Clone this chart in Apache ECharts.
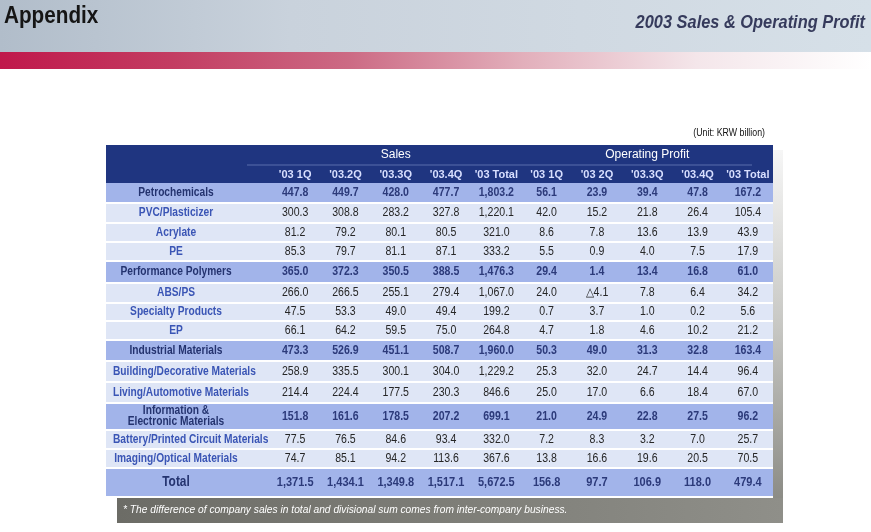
<!DOCTYPE html>
<html>
<head>
<meta charset="utf-8">
<script src="https://cdn.jsdelivr.net/npm/echarts@6.0.0/dist/echarts.min.js"></script>
<style>
  html, body { margin: 0; padding: 0; background: #fff; }
  #main { width: 871px; height: 532px; }
</style>
</head>
<body>
<div id="main"></div>
<script>
// row names and which of them are division (group) rows
const rowNames = ['Petrochemicals', 'PVC/Plasticizer', 'Acrylate', 'PE',
  'Performance Polymers', 'ABS/PS', 'Specialty Products', 'EP',
  'Industrial Materials', 'Building/Decorative Materials', 'Living/Automotive Materials',
  'Information &\nElectronic Materials', 'Battery/Printed Circuit Materials',
  'Imaging/Optical Materials', 'Total']
const groupRows = [1, 0, 0, 0, 1, 0, 0, 0, 1, 0, 0, 1, 0, 0, 1]

const colHeaders = ["'03 1Q", "'03.2Q", "'03.3Q", "'03.4Q", "'03 Total",
  "'03 1Q", "'03 2Q", "'03.3Q", "'03.4Q", "'03 Total"]
const blockHeaders = ['Sales', 'Operating Profit']

// Sales (KRW billion)
const sales1Q = [447.8, 300.3, 81.2, 85.3, 365.0, 266.0, 47.5, 66.1, 473.3, 258.9, 214.4, 151.8, 77.5, 74.7, 1371.5]
const sales2Q = [449.7, 308.8, 79.2, 79.7, 372.3, 266.5, 53.3, 64.2, 526.9, 335.5, 224.4, 161.6, 76.5, 85.1, 1434.1]
const sales3Q = [428.0, 283.2, 80.1, 81.1, 350.5, 255.1, 49.0, 59.5, 451.1, 300.1, 177.5, 178.5, 84.6, 94.2, 1349.8]
const sales4Q = [477.7, 327.8, 80.5, 87.1, 388.5, 279.4, 49.4, 75.0, 508.7, 304.0, 230.3, 207.2, 93.4, 113.6, 1517.1]
const salesTotal = [1803.2, 1220.1, 321.0, 333.2, 1476.3, 1067.0, 199.2, 264.8, 1960.0, 1229.2, 846.6, 699.1, 332.0, 367.6, 5672.5]

// Operating profit (negative shown with a triangle)
const op1Q = [56.1, 42.0, 8.6, 5.5, 29.4, 24.0, 0.7, 4.7, 50.3, 25.3, 25.0, 21.0, 7.2, 13.8, 156.8]
const op2Q = [23.9, 15.2, 7.8, 0.9, 1.4, -4.1, 3.7, 1.8, 49.0, 32.0, 17.0, 24.9, 8.3, 16.6, 97.7]
const op3Q = [39.4, 21.8, 13.6, 4.0, 13.4, 7.8, 1.0, 4.6, 31.3, 24.7, 6.6, 22.8, 3.2, 19.6, 106.9]
const op4Q = [47.8, 26.4, 13.9, 7.5, 16.8, 6.4, 0.2, 10.2, 32.8, 14.4, 18.4, 27.5, 7.0, 20.5, 118.0]
const opTotal = [167.2, 105.4, 43.9, 17.9, 61.0, 34.2, 5.6, 21.2, 163.4, 96.4, 67.0, 96.2, 25.7, 70.5, 479.4]

const columns = [sales1Q, sales2Q, sales3Q, sales4Q, salesTotal, op1Q, op2Q, op3Q, op4Q, opTotal]

// layout (pixels) - how tall each line is drawn, not data
const rowHeights = [21, 20, 19, 19, 22, 20, 18, 19, 21, 21, 21, 27, 19, 19, 29]
const labelColWidth = 164
const labelCenter = 176
const FONT = '"Liberation Sans", Arial, sans-serif'
const NARROW = 0.85 // squeeze Arial into something like Arial Narrow

const rowTops = []
rowHeights.reduce((acc, h, i) => { rowTops[i] = acc; return acc + h }, 0)
const tableHeight = rowHeights.reduce((a, b) => a + b, 0)
const lastRow = rowNames.length - 1

const fmt = v => (v < 0 ? '\u25B3' : '') +
  Math.abs(v).toLocaleString('en-US', { minimumFractionDigits: 1, maximumFractionDigits: 1 })

const measureCtx = document.createElement('canvas').getContext('2d')
const textWidth = (text, font) => {
  measureCtx.font = font
  return Math.max(...text.split('\n').map(s => measureCtx.measureText(s).width))
}

const chart = echarts.init(document.getElementById('main'))

const renderRow = (params, api) => {
  const i = api.value(2)
  const cs = params.coordSys
  const top = api.coord([0, rowTops[i]])[1]
  const bottom = api.coord([0, rowTops[i] + rowHeights[i]])[1]
  const mid = (top + bottom) / 2
  const left = cs.x - labelColWidth
  const isGroup = groupRows[i] === 1
  const labelFont = (i === lastRow ? 'bold 14px ' : 'bold 12px ') + FONT
  const w = textWidth(rowNames[i], labelFont) * NARROW
  const lx = Math.max(labelCenter, left + 7 + w / 2)
  const children = [{
    type: 'rect',
    shape: { x: left, y: top, width: cs.x + cs.width - left, height: bottom - top - 2 },
    style: { fill: isGroup ? '#a2b4ea' : '#dfe6f6' }
  }, {
    type: 'text',
    x: lx, y: mid - 1, scaleX: NARROW,
    style: {
      text: rowNames[i], x: 0, y: 0,
      align: 'center', verticalAlign: 'middle',
      font: labelFont, lineHeight: 11,
      fill: isGroup ? '#24336f' : '#3a55b5'
    }
  }]
  columns.forEach((col, c) => {
    const p = api.coord([c, rowTops[i] + rowHeights[i] / 2])
    children.push({
      type: 'text',
      x: p[0], y: p[1] - 1, scaleX: 0.88,
      style: {
        text: fmt(col[i]), x: 0, y: 0,
        align: 'center', verticalAlign: 'middle',
        font: (isGroup ? 'bold ' : '') + (i === lastRow ? '12.5px ' : '12px ') + FONT,
        fill: isGroup ? '#2c3a7a' : '#262626'
      }
    })
  })
  return { type: 'group', children }
}

const grayFade = (x2, y2, stops) => ({
  type: 'linear', x: 0, y: 0, x2, y2,
  colorStops: stops.map((c, k) => ({ offset: k / (stops.length - 1), color: c }))
})

chart.setOption({
  animation: false,
  grid: { left: 270, right: 98, top: 183, height: tableHeight },
  xAxis: [{
    type: 'category',
    data: colHeaders,
    position: 'top',
    z: 5,
    axisLine: { show: false },
    axisTick: { show: false },
    axisLabel: { interval: 0, color: '#d8dfff', fontWeight: 'bold', fontSize: 11, fontFamily: FONT, margin: 3 }
  }, {
    type: 'category',
    data: blockHeaders,
    position: 'top',
    offset: 18,
    z: 5,
    axisLine: { show: false },
    axisTick: { show: false },
    axisLabel: { interval: 0, color: '#ffffff', fontSize: 12, fontFamily: FONT, margin: 4 }
  }],
  yAxis: { type: 'value', inverse: true, min: 0, max: tableHeight, show: false },
  graphic: [
    {
      type: 'rect', z: -10,
      shape: { x: 0, y: 0, width: 871, height: 52 },
      style: { fill: grayFade(1, 0, ['#b1bdca', '#c9d2dc', '#d0d9e2', '#d6e0e8']) }
    },
    {
      type: 'rect', z: -10,
      shape: { x: 0, y: 52, width: 871, height: 17 },
      style: { fill: grayFade(1, 0, ['#c0184b', '#c33d62', '#cc6a84', '#e2afbb', '#f4e6ea', '#ffffff']) }
    },
    {
      type: 'text', x: 4, y: 17, scaleX: 0.9,
      style: { text: 'Appendix', x: 0, y: 0, verticalAlign: 'middle', font: 'bold 23px ' + FONT, fill: '#151515' }
    },
    {
      type: 'text', x: 865, y: 23, scaleX: 0.91,
      style: {
        text: '2003 Sales & Operating Profit', x: 0, y: 0, align: 'right', verticalAlign: 'middle',
        font: 'italic bold 18px ' + FONT, fill: '#363b5c'
      }
    },
    {
      type: 'text', x: 765, y: 133, scaleX: 0.88,
      style: {
        text: '(Unit: KRW billion)', x: 0, y: 0, align: 'right', verticalAlign: 'middle',
        font: '10px ' + FONT, fill: '#111'
      }
    },
    {
      type: 'rect', z: -10,
      shape: { x: 773, y: 150, width: 10, height: 348 },
      style: { fill: grayFade(0, 1, ['#f6f6f6', '#c8c8c4', '#8c8c86']) }
    },
    {
      type: 'rect', z: -9,
      shape: { x: 117, y: 498, width: 666, height: 25 },
      style: { fill: grayFade(1, 0, ['#6c6c66', '#8f8f89']) }
    },
    {
      type: 'text', x: 123, y: 510, scaleX: 0.93,
      style: {
        text: '* The difference of company sales in total and divisional sum comes from inter-company business.',
        x: 0, y: 0, verticalAlign: 'middle', font: 'italic 11px ' + FONT, fill: '#ffffff'
      }
    },
    {
      type: 'rect', z: -8,
      shape: { x: 106, y: 145, width: 667, height: 38 },
      style: { fill: '#1f3580' }
    },
    {
      type: 'line', z: -7,
      shape: { x1: 247, y1: 165, x2: 752, y2: 165 },
      style: { stroke: '#5b6fac', lineWidth: 1 }
    }
  ],
  series: [{
    type: 'custom',
    clip: false,
    renderItem: renderRow,
    encode: { x: 0, y: 1 },
    data: rowNames.map((n, i) => [0, rowTops[i] + rowHeights[i] / 2, i])
  }]
})
</script>
</body>
</html>
